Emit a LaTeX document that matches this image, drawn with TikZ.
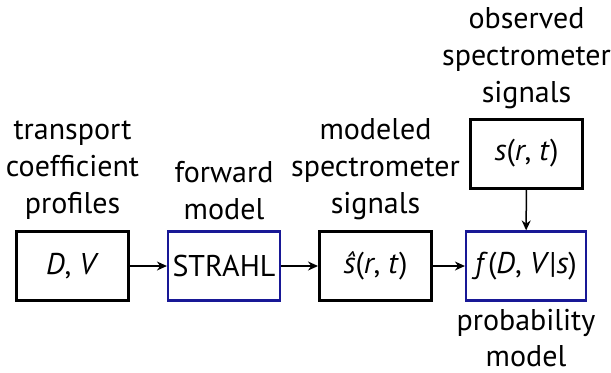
\documentclass[tikz,border=0pt]{standalone}
\usepackage{fontspec}
\setmainfont{PT Sans}
\usetikzlibrary{arrows.meta, positioning}
\definecolor{ModelBlue}{RGB}{24, 24, 150}

\begin{document}
\begin{tikzpicture}[
    x=0.5pt, y=-0.5pt,
    every node/.style={font=\fontsize{15}{18.5}\selectfont},
    box/.style={rectangle, draw=black, line width=1.5pt, minimum width=56pt, minimum height=34.5pt, inner sep=0pt},
    modelbox/.style={box, draw=ModelBlue, line width=1.1pt},
    caption/.style={align=center, inner sep=0pt},
    arrow/.style={-{Stealth[length=5pt, width=4.5pt]}, line width=0.75pt}
]
    \useasboundingbox (0,0) rectangle (611,372);

    \node[box] (dv) at (72.5,266) {\textit{D}, \textit{V}};
    \node[modelbox] (strahl) at (224,266) {STRAHL};
    \node[box] (shat) at (375.5,266) {\textit{\^s}(\textit{r}, \textit{t})};
    \node[modelbox, minimum width=60pt] (prob) at (526,266) {\textit{f}(\textit{D}, \textit{V}|\textit{s})};
    \node[box] (obs) at (526.5,153.5) {\textit{s}(\textit{r}, \textit{t})};

    \node[caption, above=5pt of dv] (dvlabel) {transport\\coefficient\\profiles};
    \node[caption, above=5pt of strahl] (strahllabel) {forward\\model};
    \node[caption, above=5pt of shat] (shatlabel) {modeled\\spectrometer\\signals};
    \node[caption, above=4pt of obs] (obslabel) {observed\\spectrometer\\signals};
    \node[caption, below=3.5pt of prob, font=\fontsize{15}{18}\selectfont] (problabel) {probability\\model};

    \draw [arrow] (dv) -- (strahl);
    \draw [arrow] (strahl) -- (shat);
    \draw [arrow] (shat) -- (prob);
    \draw [arrow] (obs) -- (prob);
\end{tikzpicture}
\end{document}
